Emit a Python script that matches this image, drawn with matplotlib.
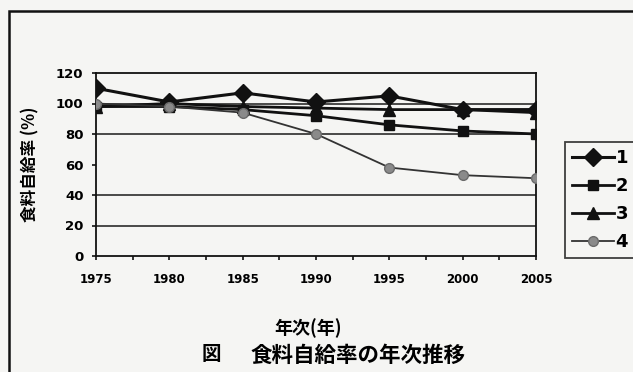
import matplotlib.pyplot as plt
from matplotlib.patches import Rectangle

plt.rcParams['font.family'] = ['Noto Sans CJK JP', 'DejaVu Sans']

years = [1975, 1980, 1985, 1990, 1995, 2000, 2005]
series_labels = ['1', '2', '3', '4']
rate_1 = [110, 101, 107, 101, 105, 96, 96]
rate_2 = [98, 98, 96, 92, 86, 82, 80]
rate_3 = [98, 100, 98, 97, 96, 96, 94]
rate_4 = [100, 98, 94, 80, 58, 53, 51]
y_ticks = [0, 20, 40, 60, 80, 100, 120]
grid_levels = [20, 40, 80, 100]

bg = '#f5f5f3'
fig = plt.figure(figsize=(6.33, 3.72), dpi=100)
fig.patch.set_facecolor(bg)

# outer frame of the figure box (right/bottom edges run off the page)
fig.patches.append(Rectangle((9 / 633, -0.05), 1.0, 1 - 11 / 372 + 0.05,
                             transform=fig.transFigure, fill=False,
                             edgecolor='#111111', linewidth=1.8))

ax = fig.add_axes([96 / 633, 1 - 256 / 372, (536 - 96) / 633, (256 - 73) / 372])
ax.set_facecolor(bg)

for g in grid_levels:
    ax.axhline(g, color='#1a1a1a', linewidth=1.1, zorder=1)

ax.plot(years, rate_1, color='#111111', linewidth=2.2, marker='D',
        markersize=9, label=series_labels[0], zorder=5)
ax.plot(years, rate_2, color='#111111', linewidth=2.0, marker='s',
        markersize=7, label=series_labels[1], zorder=4)
ax.plot(years, rate_3, color='#111111', linewidth=2.0, marker='^',
        markersize=9, label=series_labels[2], zorder=3)
ax.plot(years, rate_4, color='#333333', linewidth=1.3, marker='o',
        markersize=7, markerfacecolor='#8a8a8a', markeredgecolor='#6a6a6a',
        label=series_labels[3], zorder=6)

ax.set_xlim(1975, 2005)
ax.set_ylim(0, 120)
ax.set_yticks(y_ticks)
ax.set_xticks(years)
ax.set_xticks([y + 2.5 for y in years[:-1]], minor=True)
ax.tick_params(axis='both', which='both', direction='out', length=3,
               width=1.2, color='#111111')
ax.tick_params(axis='x', which='major', pad=9)
ax.tick_params(axis='y', pad=6)
for lab in ax.get_xticklabels():
    lab.set_fontweight('bold')
    lab.set_fontsize(8.5)
    lab.set_family('DejaVu Sans')
for lab in ax.get_yticklabels():
    lab.set_fontweight('bold')
    lab.set_fontsize(9.5)
    lab.set_family('DejaVu Sans')
for s in ax.spines.values():
    s.set_color('#111111')
    s.set_linewidth(1.3)

ax.set_ylabel('食料自給率 (%)', fontsize=12, fontweight='bold', labelpad=12)

leg = ax.legend(loc='center left', bbox_to_anchor=(1.066, 0.305),
                borderaxespad=0, frameon=True, fancybox=False,
                handlelength=2.3, handletextpad=0.1, labelspacing=0.55,
                borderpad=0.4,
                prop={'size': 13, 'weight': 'bold', 'family': 'DejaVu Sans'})
leg.get_frame().set_edgecolor('#111111')
leg.get_frame().set_linewidth(1.3)
leg.get_frame().set_facecolor(bg)

fig.text(308 / 633, 1 - 328 / 372, '年次(年)', ha='center', va='center',
         fontsize=13, fontweight='bold')
fig.text(211 / 633, 1 - 355 / 372, '図', ha='center', va='center',
         fontsize=14, fontweight='bold')
fig.text(358 / 633, 1 - 355 / 372, '食料自給率の年次推移', ha='center',
         va='center', fontsize=15.5, fontweight='bold')

fig.savefig('out.png', dpi=100, facecolor=bg)
